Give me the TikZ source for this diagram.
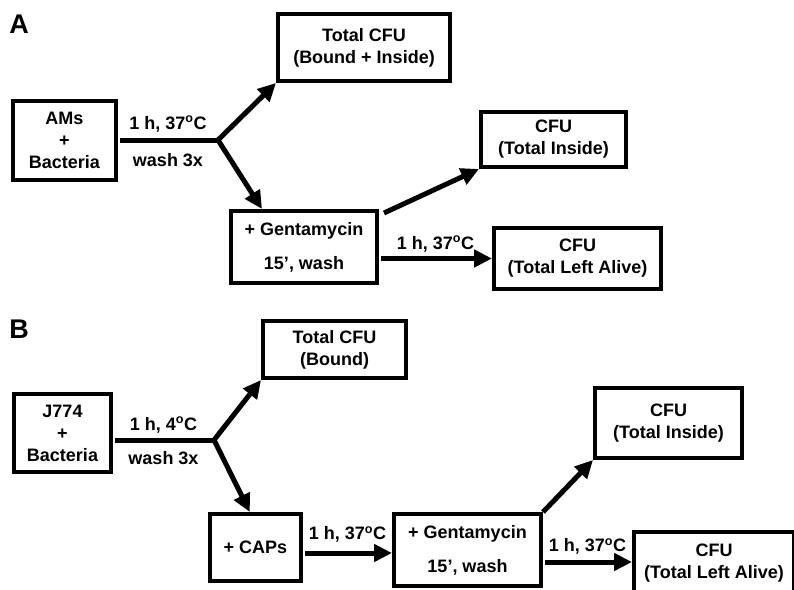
\documentclass[tikz,border=0pt]{standalone}
\usepackage{fontspec}
\setmainfont{Liberation Sans}
\usetikzlibrary{arrows.meta,calc}
\begin{document}
\begin{tikzpicture}[x=1pt,y=-1pt,
    box/.style={draw,line width=4pt,inner sep=0pt,align=center,font=\bfseries\fontsize{18}{22}\selectfont},
    lbl/.style={font=\bfseries\fontsize{18}{22}\selectfont,inner sep=0pt,anchor=base},
    link/.style={line width=5pt},
    arr/.style={line width=5pt,-{Triangle[length=18pt,width=17pt]}},
    twoarr/.style={line width=5pt,{Triangle[length=18pt,width=17pt]}-{Triangle[length=18pt,width=17pt]}}]
  \useasboundingbox (0,0) rectangle (794,589);
  \clip (0,0) rectangle (794,589);
  \foreach \p/\y in {A/24,B/329}
    \draw (19,\y) node[font=\bfseries\fontsize{27}{27}\selectfont] (lab\p) {\p};
  \draw (64.5,140.5) node[box,minimum width=103pt,minimum height=79pt] (ams) {AMs\\+\\Bacteria};
  \draw (364,47.5) node[box,minimum width=172pt,minimum height=67pt] (tota) {Total CFU\\(Bound + Inside)};
  \draw (304,247) node[box,minimum width=146pt,minimum height=72pt] (genta) {+ Gentamycin\\[12pt]15’, wash};
  \draw (553.5,139.5) node[box,minimum width=145pt,minimum height=55pt] (insa) {CFU\\(Total Inside)};
  \draw (577.5,258.5) node[box,minimum width=167pt,minimum height=61pt] (lefta) {CFU\\(Total Left Alive)};
  \coordinate (ja) at (218,140);
  \draw[link,shorten <=2pt] (ja -| ams.east) -- (ja)
    node[lbl,midway,yshift=11pt] (ta1) {1 h, 37\textsuperscript{o}C}
    node[lbl,midway,yshift=-26pt] (wa1) {wash 3x};
  \draw[twoarr] (tota.south west) -- (ja) -- ($(genta.north west)!0.22!(genta.north east)$);
  \draw[arr] ($(genta.north east)+(5,4)$) -- (insa.south west);
  \draw[arr,shorten <=2pt] (lefta.west -| genta.east) -- (lefta.west)
    node[lbl,midway,yshift=9.5pt] (ta2) {1 h, 37\textsuperscript{o}C};
  \draw (62.5,433) node[box,minimum width=97pt,minimum height=78pt] (j774) {J774\\+\\Bacteria};
  \draw (334.5,349.5) node[box,minimum width=143pt,minimum height=57pt] (totb) {Total CFU\\(Bound)};
  \draw (255.5,547.5) node[box,minimum width=91pt,minimum height=67pt] (caps) {+ CAPs};
  \draw (467.5,550) node[box,minimum width=147pt,minimum height=72pt] (gentb) {+ Gentamycin\\[12pt]15’, wash};
  \draw (668.5,423) node[box,minimum width=147pt,minimum height=70pt] (insb) {CFU\\(Total Inside)};
  \draw (714,563) node[box,minimum width=160pt,minimum height=62pt] (leftb) {CFU\\(Total Left Alive)};
  \coordinate (jb) at (214,440);
  \draw[link,shorten <=2pt] (jb -| j774.east) -- (jb)
    node[lbl,midway,yshift=10pt] (tb1) {1 h, 4\textsuperscript{o}C}
    node[lbl,midway,yshift=-24.5pt] (wb1) {wash 3x};
  \draw[twoarr] (totb.south west) -- (jb) -- ($(caps.north west)!0.44!(caps.north east)$);
  \draw[arr,shorten <=2pt] ([yshift=-5.5pt]caps.east) -- ([yshift=-5.5pt]caps.east -| gentb.west)
    node[lbl,midway,yshift=13.5pt] (tb2) {1 h, 37\textsuperscript{o}C};
  \draw[arr] (gentb.north east) -- (insb.south west);
  \draw[arr,shorten <=2pt] ([yshift=-12pt]gentb.east) -- ([yshift=-12pt]gentb.east -| leftb.west)
    node[lbl,midway,yshift=10.5pt] (tb3) {1 h, 37\textsuperscript{o}C};
\end{tikzpicture}
\end{document}
